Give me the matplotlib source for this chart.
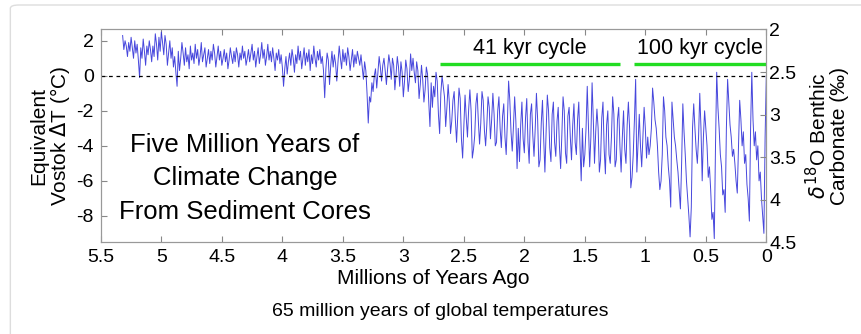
import matplotlib.pyplot as plt
import numpy as np
from matplotlib.patches import FancyBboxPatch

plt.rcParams['font.family'] = ['Liberation Sans', 'DejaVu Sans']
plt.rcParams['axes.unicode_minus'] = False

# temperature anomaly (deg C), one value per 10 kyr, starting at 0 Myr ago
temps = [
    0.0, -3.5, -9.0, -8.0, -7.0, -5.5, -6.0, -4.0, -4.8, -3.2,
    -4.0, -2.5, 0.2, -3.0, -8.3, -7.0, -6.2, -4.5, -5.0, -3.2,
    -4.0, -2.5, -1.4, -4.0, -6.7, -6.0, -5.0, -4.2, -4.6, -3.5,
    -2.8, -1.5, -0.2, -3.0, -7.8, -6.5, -6.8, -5.2, -4.5, -3.0,
    -1.8, 0.2, -4.0, -9.3, -7.8, -8.2, -6.5, -5.2, -5.8, -4.0,
    -3.0, -2.0, -3.5, -6.0, -3.0, -1.0, -3.5, -5.0, -4.2, -3.0,
    -1.6, -3.0, -7.5, -9.2, -8.0, -7.0, -6.0, -4.5, -3.2, -1.6,
    -5.0, -7.6, -6.5, -5.5, -4.8, -4.0, -3.5, -2.5, -1.5, -7.5,
    -6.0, -5.2, -4.0, -3.5, -2.0, -1.2, -4.5, -6.0, -6.5, -5.5,
    -4.0, -3.0, -2.5, -1.5, -0.7, -3.0, -4.0, -4.5, -3.5, -4.7,
    -3.0, -1.8, -3.5, -5.2, -4.0, -2.2, -3.8, -5.5, -0.2, -2.5,
    -4.5, -5.8, -6.4, -3.0, -1.5, -2.8, -5.0, -4.2, -2.0, -3.5,
    -5.5, -4.0, -1.8, -2.5, -4.8, -5.2, -2.2, -1.2, -3.5, -5.0,
    -4.5, -2.0, -2.8, -5.6, -4.2, -1.5, -2.4, -4.8, -5.5, -3.0,
    -1.9, -3.2, -5.0, -2.5, -0.4, -3.5, -5.2, -2.8, -0.6, -3.0,
    -4.5, -5.2, -3.0, -6.0, -4.0, -1.5, -2.5, -4.5, -3.8, -1.6,
    -2.8, -4.8, -3.5, -1.8, -2.3, -5.0, -4.4, -2.0, -1.2, -3.4,
    -5.3, -4.0, -1.8, -2.6, -4.6, -3.8, -1.5, -2.2, -4.9, -4.1,
    -2.0, -1.1, -3.2, -5.5, -3.6, -1.4, -2.7, -4.8, -5.2, -2.5,
    -1.0, -3.0, -4.6, -3.4, -1.6, -2.2, -5.0, -3.8, -1.3, -2.4,
    -4.4, -3.6, -1.5, -2.8, -4.9, -3.0, -5.3, -2.6, -1.2, -2.9,
    -4.3, -3.2, -1.4, -0.3, -2.6, -4.5, -3.5, -1.6, -2.3, -4.1,
    -3.0, -1.2, -2.0, -3.8, -4.0, -2.2, -1.0, -2.5, -3.6, -1.8,
    -1.2, -2.8, -4.0, -3.1, -1.4, -0.9, -2.7, -3.9, -2.6, -1.0,
    -1.6, -3.4, -4.2, -4.7, -2.0, -0.8, -1.9, -3.5, -2.4, -1.1,
    -2.9, -4.7, -3.6, -1.3, -0.7, -2.2, -3.8, -2.5, -0.9, -1.4,
    -2.6, -3.3, -1.5, -0.5, -1.8, -2.9, -1.2, -0.6, 0.0, -1.0,
    -3.3, -2.2, -0.3, 0.2, -1.2, -0.6, -1.8, -0.4, -2.9, -1.5,
    0.1, 0.5, -0.8, -1.5, -0.2, 0.6, -0.5, -1.3, 0.3, 0.8,
    -0.4, 0.2, 1.0, 0.3, 1.25, -0.2, -0.9, 0.4, 0.9, -0.3,
    -1.2, 0.2, 0.8, -0.6, 0.5, 1.1, 0.1, -0.8, 0.6, 1.0,
    -0.2, 0.7, 1.2, 0.4, -0.5, 0.3, 1.0, 0.6, -0.3, 0.5,
    1.1, 0.2, -0.7, 0.4, 0.0, -0.9, -0.4, -1.5, -1.2, -2.7,
    -1.0, 0.3, 0.8, -0.2, 0.5, 1.2, 0.6, 1.0, 1.4, 0.7,
    1.2, 0.5, 1.5, 0.9, 0.3, 1.1, 1.6, 0.6, 1.3, 0.8,
    1.5, 0.4, 1.0, 1.7, 0.8, -0.3, 0.7, 1.2, 0.5, 1.4,
    0.6, -0.5, 0.9, 1.3, 0.4, -1.25, 0.3, 1.1, 0.7, 1.5,
    0.9, 1.4, 0.5, 1.0, 1.7, 0.7, 1.2, 0.3, 1.5, 0.8,
    1.3, 0.6, 1.6, 1.0, 0.4, 1.4, 0.9, 1.7, 0.7, 1.2,
    0.2, 1.0, 1.5, 0.6, 1.3, 0.8, 0.1, 1.1, 0.4, -0.6,
    0.5, 1.2, 0.7, 1.5, 0.9, 1.3, 0.3, 1.0, 1.6, 0.8,
    1.4, 0.9, 1.8, 1.1, 0.6, 1.5, 1.0, 1.9, 1.2, 0.7,
    1.6, 1.1, 0.5, 1.4, 0.9, 1.8, 1.3, 0.8, 1.5, 1.0,
    0.6, 1.4, 1.0, 1.7, 0.9, 1.3, 0.5, 1.2, 1.6, 0.8,
    1.4, 0.7, 1.1, 1.6, 0.9, 0.4, 1.3, 0.8, 1.5, 1.0,
    0.6, 1.4, 0.9, 1.7, 1.1, 0.5, 1.3, 1.8, 0.9, 1.4,
    0.7, 1.5, 1.0, 0.5, 1.6, 1.2, 0.8, 1.9, 1.1, 0.6,
    1.5, 1.0, 1.8, 0.7, 1.3, 0.9, 1.7, 0.4, 1.2, 0.8,
    1.6, 0.6, 1.3, 1.9, 1.0, 0.3, 1.4, -0.6, 0.2, 1.1,
    0.5, 1.6, 1.0, 2.0, 1.3, 0.6, 1.8, 2.3, 1.2, 1.9,
    2.5, 1.4, 2.2, 0.9, 1.8, 2.4, 1.1, 1.7, 0.8, 1.5,
    2.0, 1.2, 1.7, 0.6, 1.4, 2.1, 1.0, 1.6, -0.1, 0.9,
    1.8, 1.3, 2.0, 1.0, 1.6, 2.2, 1.4, 1.9, 1.1, 1.7,
    2.0, 1.5, 2.3,
]
step = 0.01
ages = np.arange(len(temps)) * step

# marked cycle periods (Myr ago)
cycles = ["41 kyr cycle", "100 kyr cycle"]
cycle_start = [2.70, 1.09]
cycle_end = [1.21, 0.0]
cycle_level = 0.68

xticks = [5.5, 5, 4.5, 4, 3.5, 3, 2.5, 2, 1.5, 1, 0.5, 0]
xticklabels = ["5.5", "5", "4.5", "4", "3.5", "3", "2.5", "2", "1.5", "1", "0.5", "0"]
yticks = [2, 0, -2, -4, -6, -8]
d18o_ticks = [2, 2.5, 3, 3.5, 4, 4.5]

fig = plt.figure(figsize=(8.62, 3.34), dpi=100)
card = FancyBboxPatch((0.012, -0.2), 1.2, 1.185, boxstyle="round,pad=0,rounding_size=0.01",
                      transform=fig.transFigure, facecolor="white",
                      edgecolor="#dddddd", linewidth=1.0, zorder=-10)
fig.patches.append(card)

ax = fig.add_axes([0.117, 0.274, 0.772, 0.638])
ax.plot(ages, temps, color=(0.2, 0.2, 0.85), lw=0.7, alpha=0.9)
ax.axhline(0, color="k", ls=(0, (3, 3)), lw=0.9)

for name, a0, a1 in zip(cycles, cycle_start, cycle_end):
    ax.plot([a0, a1], [cycle_level, cycle_level], color="#22dd22", lw=2.4,
            solid_capstyle="butt")
    ax.text((a0 + a1) / 2, cycle_level + 0.3, name, ha="center", va="bottom",
            fontsize=15.5)

ax.text(4.31, -5.85, "Five Million Years of\nClimate Change\nFrom Sediment Cores",
        ha="center", va="center", fontsize=18.5, linespacing=1.5)

ax.set_xlim(5.5, 0)
ax.set_ylim(-9.52, 2.65)
ax.set_xticks(xticks)
ax.set_xticklabels(xticklabels)
ax.set_yticks(yticks)
ax.tick_params(direction="in", top=True, labelsize=14, length=4, color="#888888",
               pad=5)
for s in ax.spines.values():
    s.set_color("#999999")
ax.set_xlabel("Millions of Years Ago", fontsize=15, labelpad=2)
ax.set_ylabel("Equivalent\nVostok $\\Delta$T (°C)", fontsize=15, labelpad=3,
              linespacing=1.0)

ax2 = ax.twinx()
ax2.set_ylim(4.5, 2)
ax2.set_yticks(d18o_ticks)
ax2.set_yticklabels(["2", "2.5", "3", "3.5", "4", "4.5"])
ax2.tick_params(direction="in", labelsize=14, length=4, color="#888888", pad=2)
for s in ax2.spines.values():
    s.set_color("#999999")
ax2.set_ylabel("$\\delta^{18}$O Benthic\nCarbonate (‰)", fontsize=15,
               labelpad=6, linespacing=1.0)

fig.text(0.511, 0.068, "65 million years of global temperatures", ha="center",
         va="center", fontsize=14)

fig.savefig("out.png", dpi=100)
